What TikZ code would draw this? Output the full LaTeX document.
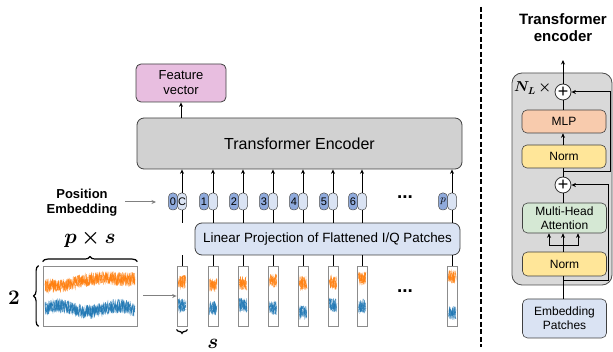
\documentclass[tikz,border=0pt]{standalone}
\usepackage[no-math]{fontspec}
\setmainfont{Liberation Sans}
\usepackage{bm}
\usetikzlibrary{arrows.meta,decorations.pathreplacing,calc}
\definecolor{featc}{HTML}{E8BEE0}
\definecolor{encc}{HTML}{D1D1D1}
\definecolor{linc}{HTML}{DAE3F3}
\definecolor{darkp}{HTML}{8FAADC}
\definecolor{mlpc}{HTML}{F8CBAD}
\definecolor{normc}{HTML}{FFE699}
\definecolor{mhac}{HTML}{D5E8D4}
\definecolor{panelc}{HTML}{D9D9D9}
\definecolor{sigo}{HTML}{FF7F0E}
\definecolor{sigb}{HTML}{1F77B4}
\begin{document}
\begin{tikzpicture}[x=1pt,y=-1pt,
  box/.style={draw=black!75, rounded corners=5pt, line width=0.8pt, inner sep=0pt, align=center},
  arr/.style={-{Stealth[length=4.5pt,width=4pt]}, line width=1pt},
  garr/.style={-{Stealth[length=4.5pt,width=4pt]}, line width=1pt, draw=black!50},
  ln/.style={line width=1pt},
  pill/.style={draw=black!70, line width=0.5pt, rounded corners=4pt, minimum width=9pt, minimum height=17pt, inner sep=0pt, font=\fontsize{11}{11}\selectfont},
  patchbox/.style={draw=black!45, line width=0.8pt, fill=white, minimum width=10pt, minimum height=60pt, inner sep=0pt},
  pbox/.style={box, minimum width=84pt, font=\fontsize{12}{14}\selectfont, line width=0.6pt},
  plus/.style={circle, draw=black!80, line width=0.8pt, fill=white, minimum size=16pt, inner sep=0pt, font=\fontsize{18}{18}\selectfont},
  brc/.style={decorate, decoration={brace, amplitude=5pt}, line width=1.2pt},
  sig/.style={line width=0.3pt, opacity=0.85}
]
\useasboundingbox (0,0) rectangle (613,352);

% ---------- left part ----------
\node[box, fill=featc, minimum width=90pt, minimum height=38pt, font=\fontsize{13}{15}\selectfont] (feat) at (181,83) {Feature\\vector};
\node[box, fill=encc, minimum width=325pt, minimum height=51pt, rounded corners=7pt, font=\fontsize{16}{18}\selectfont] (enc) at (299.5,143.5) {Transformer Encoder};
\node[box, fill=linc, minimum width=265pt, minimum height=32pt, rounded corners=7pt, font=\fontsize{13.4}{15}\selectfont] (lin) at (327.5,239) {Linear Projection of Flattened I/Q Patches};

\draw[arr] (enc.north -| feat) -- (feat.south);

\pgfmathsetseed{11}
\foreach \cx/\l/\c/\oc/\bc [count=\i] in {182/0/C/282/306, 213/1//285/308, 243/2//283/305, 273/3//281/308, 303/4//283/312, 333/5//283/305, 362/6//278/306, 452/$p$//277/313} {
  \node[pill, fill=linc] (l\i) at (\cx,201.5) {\c};
  \node[pill, fill=darkp] (d\i) at (\cx-9,201.5) {\l};
  \node[patchbox] (p\i) at (\cx,296) {};
  \foreach \k in {1,2} {
    \draw[sigo, sig] plot[domain=0:1, samples=40] ({\cx-3.5+7*\x+0.8*rand}, {\oc+7*rand});
    \draw[sigb, sig] plot[domain=0:1, samples=40] ({\cx-3.5+7*\x+0.8*rand}, {\bc+7*rand});
  }
  \draw[arr] (l\i.north) -- (enc.south -| l\i);
  \draw[ln] (lin.north -| l\i) -- (l\i.south);
  \draw[ln] (p\i.north) -- (lin.south -| p\i);
}

\node[font=\fontsize{19}{19}\selectfont\bfseries] (dots1) at (405,197) {...};
\node[font=\fontsize{19}{19}\selectfont\bfseries] (dots2) at (405,291) {...};

\node[font=\fontsize{13}{15}\selectfont\bfseries, align=center] (posemb) at (82,203) {Position\\Embedding};
\coordinate (pe1) at (125,202);
\coordinate (pe2) at (156,202);
\draw[garr] (pe1) -- (pe2);

% big signal
\node[draw=black!45, line width=0.8pt, fill=white, minimum width=94pt, minimum height=60pt, inner sep=0pt] (sig) at (90,296) {};
\foreach \k in {1,2,3} {
  \draw[sigo, sig] plot[domain=45:135, samples=260] (\x, {285 - 0.09*(\x-43) + 2*sin(5*(\x-43)) + 7*rand});
  \draw[sigb, sig] plot[domain=45:135, samples=260] (\x, {309 - 3*sin(6*(\x-43)) + 7*rand});
}
\draw[brc] (sig.north west) ++(0,-4) coordinate (bt1) -- ($(sig.north east)+(0,-4)$) coordinate (bt2);
\node[font=\fontsize{20}{20}\selectfont] (pxs) at (90,239) {$\bm{p\times s}$};
\draw[brc] ($(sig.south west)+(-4,0)$) coordinate (bl1) -- ($(sig.north west)+(-4,0)$) coordinate (bl2);
\node[font=\fontsize{21}{21}\selectfont] (two) at (14,298) {$\bm{2}$};
\draw[brc, decoration={brace, amplitude=4pt}] ($(p1.south east)+(0,3)$) coordinate (bs1) -- ($(p1.south west)+(0,3)$) coordinate (bs2);
\node[font=\fontsize{20}{20}\selectfont] (slab) at (213,344) {$\bm{s}$};
\draw[garr] (sig.east)++(6,0) coordinate (sa) -- (p1.west);

% ---------- divider ----------
\coordinate (dv1) at (481,7);
\coordinate (dv2) at (481,347);
\draw[line width=2.2pt, dash pattern=on 5pt off 2.5pt] (dv1) -- (dv2);

% ---------- right part ----------
\node[font=\fontsize{15}{17}\selectfont\bfseries, align=center] (title) at (563,28) {Transformer\\encoder};
\node[draw=black!70, line width=0.8pt, fill=panelc, rounded corners=10pt, minimum width=100pt, minimum height=212pt, inner sep=0pt] (panel) at (562,179) {};

\node[plus] (plus1) at (563,92) {+};
\node[pbox, fill=mlpc, minimum height=23pt] (mlp) at (564,121.5) {MLP};
\node[pbox, fill=normc, minimum height=23pt] (norm1) at (564,156.5) {Norm};
\node[plus] (plus2) at (563,185) {+};
\node[pbox, fill=mhac, minimum height=30pt, font=\fontsize{12}{13.5}\selectfont] (mha) at (564.5,218) {Multi-Head\\Attention};
\node[pbox, fill=normc, minimum height=24pt] (norm2) at (564.5,264) {Norm};
\node[pbox, fill=linc, minimum height=39pt, font=\fontsize{12}{14}\selectfont] (emb) at (564.5,318.5) {Embedding\\Patches};
\node[font=\fontsize{14}{14}\selectfont, anchor=west, inner sep=0pt] (nl) at (514,88) {$\bm{N_L}\,\bm{\times}$};

\coordinate (top) at (563,60);
\draw[arr] (plus1.north) -- (top);
\draw[ln] (mlp.north -| plus1) -- (plus1.south);
\draw[arr] (norm1.north -| plus1) -- (mlp.south -| plus1);
\draw[ln] (plus2.north) -- (norm1.south -| plus2);
\draw[ln] (mha.north -| plus2) -- (plus2.south);
\draw[ln] (emb.north -| plus2) -- (norm2.south -| plus2);
\coordinate (br) at (563,246);
\draw[ln] (norm2.north -| plus2) -- (br);
\coordinate (brl) at (549,246);
\coordinate (brr) at (578,246);
\draw[ln] (brl) -- (brr);
\draw[arr] (brl) -- (mha.south -| brl);
\draw[arr] (br) -- (mha.south -| br);
\draw[arr] (brr) -- (mha.south -| brr);

\coordinate (s1) at (563,281);
\coordinate (k1) at (608,0);
\draw[arr] (s1) -- (s1 -| k1) -- (k1 |- plus2) -- (plus2.east);
\coordinate (s2) at (563,172);
\coordinate (k2) at (610,0);
\draw[arr] (s2) -- (s2 -| k2) -- (k2 |- plus1) -- (plus1.east);
\end{tikzpicture}
\end{document}
